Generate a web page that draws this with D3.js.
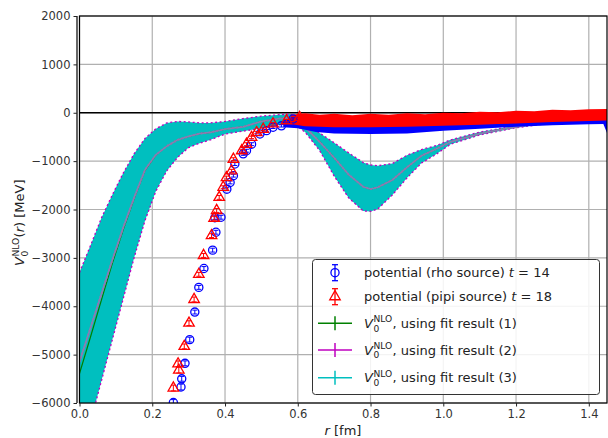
<!DOCTYPE html>
<html>
<head>
<meta charset="utf-8">
<script src="https://cdn.jsdelivr.net/npm/d3@7"></script>
<style>
body{margin:0;background:#fff}
svg{display:block;font-family:"DejaVu Sans",sans-serif}
</style>
</head>
<body>
<div id="chart"></div>
<script>

// fit band (fit results 2/3) and fit 1 centre
const rFit   = [0,0.03,0.06,0.09,0.12,0.15,0.18,0.21,0.24,0.27,0.30,0.33,0.36,0.40,0.45,0.50,0.55,0.58,0.62,0.66,0.70,0.74,0.78,0.80,0.82,0.86,0.90,0.94,0.98,1.02,1.10,1.20,1.30,1.40,1.45]
const fitHi  = [-3300,-2750,-2180,-1700,-1250,-850,-530,-330,-210,-180,-190,-210,-210,-180,-120,-70,-40,-25,-220,-420,-620,-830,-1030,-1080,-1095,-1050,-880,-760,-680,-560,-400,-270,-170,-85,-50]
const fitLo  = [-7250,-6400,-5550,-4700,-3850,-3000,-2230,-1620,-1200,-920,-720,-630,-560,-440,-380,-320,-250,-170,-400,-780,-1310,-1760,-2030,-2040,-1990,-1700,-1350,-1040,-860,-650,-460,-310,-210,-115,-75]
const fitMid = [-5150,-4450,-3750,-3050,-2380,-1760,-1180,-870,-690,-560,-490,-430,-405,-340,-290,-180,-120,-95,-300,-600,-930,-1280,-1530,-1580,-1540,-1390,-1130,-890,-750,-600,-430,-290,-190,-100,-62]
const fit1Mid= [-5390,-4640,-3880,-3120,-2420,-1780,-1190,-875,-690,-560,-490,-430,-405,-340,-290,-180,-120,-95,-300,-600,-930,-1280,-1530,-1580,-1540,-1390,-1130,-890,-750,-600,-430,-290,-190,-100,-62]

// potential, rho source t=14
const rhoR   = [0.258,0.279,0.281,0.290,0.303,0.317,0.328,0.342,0.366,0.372,0.375,0.389,0.405,0.414,0.423,0.427,0.450,0.459,0.473,0.496,0.514,0.532,0.555,0.587]
const rhoV   = [-5990,-5670,-5500,-5180,-4690,-4120,-3610,-3220,-2840,-2170,-2470,-2160,-1580,-1440,-1300,-1060,-850,-785,-650,-440,-370,-300,-270,-130]
const rhoErr = [60,60,50,50,50,40,40,40,40,40,40,40,30,30,30,30,30,30,30,25,25,25,25,25]
// dense part of the rho data (r > 0.56), upper and lower edge of the cloud
const rhoTailR  = [0.56,0.60,0.65,0.70,0.80,0.90,1.00,1.10,1.20,1.30,1.40,1.44,1.45]
const rhoTailHi = [-150,-80,-80,-90,-90,-80,-60,-50,-40,-30,-20,-20,-20]
const rhoTailLo = [-300,-320,-400,-430,-440,-430,-370,-330,-290,-260,-240,-230,-420]

// potential, pipi source t=18
const pipiR   = [0.258,0.271,0.273,0.288,0.301,0.315,0.328,0.341,0.363,0.370,0.377,0.384,0.395,0.404,0.418,0.423,0.446,0.459,0.473,0.487,0.505,0.532,0.569,0.605]
const pipiV   = [-5690,-5190,-5320,-4830,-4350,-3860,-3340,-2950,-2540,-2180,-2020,-1750,-1540,-1340,-1200,-960,-785,-650,-510,-410,-340,-230,-165,-95]
const pipiErr = [60,60,60,50,50,50,40,40,40,40,40,40,30,30,30,30,30,30,25,25,25,25,25,25]
const pipiTailR  = [0.58,0.62,0.66,0.70,0.75,0.80,0.85,0.90,0.95,1.00,1.05,1.10,1.15,1.20,1.25,1.30,1.35,1.40,1.45]
const pipiTailHi = [-40,-10,-40,-20,-50,-20,-40,-10,-30,0,-10,20,10,40,30,60,50,70,80]
const pipiTailLo = [-230,-280,-290,-300,-300,-300,-295,-290,-280,-270,-260,-250,-235,-220,-205,-190,-180,-170,-160]

const xTicks = [0.0,0.2,0.4,0.6,0.8,1.0,1.2,1.4]
const yTicks = [2000,1000,0,-1000,-2000,-3000,-4000,-5000,-6000]

const width = 608
const height = 438

const svg = d3.select("#chart")
.append("svg")
.attr("width",width)
.attr("height",height)

const x = d3.scaleLinear().domain([0,1.45]).range([79.5,607])
const y = d3.scaleLinear().domain([-6000,2000]).range([403,16])

svg.append("clipPath").attr("id","clip")
.append("rect")
.attr("x",x(0)).attr("y",y(2000))
.attr("width",x(1.45)-x(0)).attr("height",y(-6000)-y(2000))

// grid
svg.selectAll(".gx")
.data(xTicks)
.enter()
.append("line")
.attr("x1",d=>x(d)).attr("x2",d=>x(d))
.attr("y1",y(2000)).attr("y2",y(-6000))
.attr("stroke","#b0b0b0").attr("stroke-width",1.2)

svg.selectAll(".gy")
.data(yTicks)
.enter()
.append("line")
.attr("x1",x(0)).attr("x2",x(1.45))
.attr("y1",d=>y(d)).attr("y2",d=>y(d))
.attr("stroke","#b0b0b0").attr("stroke-width",1.2)

const plot = svg.append("g").attr("clip-path","url(#clip)")

// horizontal zero line
plot.append("line")
.attr("x1",x(0)).attr("x2",x(1.45))
.attr("y1",y(0)).attr("y2",y(0))
.attr("stroke","#000").attr("stroke-width",1.5)

const idx = d3.range(rFit.length)

plot.append("path")
.datum(idx)
.attr("d",d3.area().x(i=>x(rFit[i])).y0(i=>y(fitLo[i])).y1(i=>y(fitHi[i])))
.attr("fill","#00bfbf")

plot.append("path")
.datum(idx)
.attr("d",d3.line().x(i=>x(rFit[i])).y(i=>y(fitHi[i])))
.attr("fill","none").attr("stroke","#bf00bf").attr("stroke-width",1.3).attr("stroke-dasharray","2,2.5")
plot.append("path")
.datum(idx)
.attr("d",d3.line().x(i=>x(rFit[i])).y(i=>y(fitLo[i])))
.attr("fill","none").attr("stroke","#bf00bf").attr("stroke-width",1.3).attr("stroke-dasharray","2,2.5")

plot.append("path")
.datum(idx)
.attr("d",d3.line().x(i=>x(rFit[i])).y(i=>y(fit1Mid[i])))
.attr("fill","none").attr("stroke","#008000").attr("stroke-width",1.2)

plot.append("path")
.datum(idx)
.attr("d",d3.line().x(i=>x(rFit[i])).y(i=>y(fitMid[i])))
.attr("fill","none").attr("stroke","#7f86b4").attr("stroke-width",1.8)
plot.append("path")
.datum(idx)
.attr("d",d3.line().x(i=>x(rFit[i])).y(i=>y(fitMid[i])))
.attr("fill","none").attr("stroke","#9a6fb0").attr("stroke-width",1.8).attr("stroke-dasharray","1.5,2.5")

// dense data clouds
plot.append("path")
.datum(d3.range(rhoTailR.length))
.attr("d",d3.area().x(i=>x(rhoTailR[i])).y0(i=>y(rhoTailLo[i])).y1(i=>y(rhoTailHi[i])))
.attr("fill","#0000ff")

plot.append("path")
.datum(d3.range(pipiTailR.length))
.attr("d",d3.area().x(i=>x(pipiTailR[i])).y0(i=>y(pipiTailLo[i])).y1(i=>y(pipiTailHi[i])))
.attr("fill","#ff0000")

function drawPoints(rs,vs,es,color,shape){
const g = plot.append("g")
const ids = d3.range(rs.length)
g.selectAll("line.e")
.data(ids)
.enter()
.append("line")
.attr("x1",i=>x(rs[i])).attr("x2",i=>x(rs[i]))
.attr("y1",i=>y(vs[i]-es[i])).attr("y2",i=>y(vs[i]+es[i]))
.attr("stroke",color).attr("stroke-width",1)
g.selectAll("path.c")
.data(ids.flatMap(i=>[[i,vs[i]-es[i]],[i,vs[i]+es[i]]]))
.enter()
.append("line")
.attr("x1",d=>x(rs[d[0]])-2.5).attr("x2",d=>x(rs[d[0]])+2.5)
.attr("y1",d=>y(d[1])).attr("y2",d=>y(d[1]))
.attr("stroke",color).attr("stroke-width",1)
g.selectAll("path.m")
.data(ids)
.enter()
.append("path")
.attr("transform",i=>`translate(${x(rs[i])},${y(vs[i])})`)
.attr("d",d3.symbol(shape,shape===d3.symbolCircle?52:48))
.attr("fill","none").attr("stroke",color).attr("stroke-width",1.3)
}

drawPoints(rhoR,rhoV,rhoErr,"#0000ff",d3.symbolCircle)
drawPoints(pipiR,pipiV,pipiErr,"#ff0000",d3.symbolTriangle)

// spines
svg.append("rect")
.attr("x",x(0)).attr("y",y(2000))
.attr("width",x(1.45)-x(0)).attr("height",y(-6000)-y(2000))
.attr("fill","none").attr("stroke","#000").attr("stroke-width",1.2)
svg.append("line")
.attr("x1",x(0)-2.5).attr("x2",x(0)-2.5)
.attr("y1",y(2000)).attr("y2",y(-6000))
.attr("stroke","#000").attr("stroke-width",1.2)

// axes
const xAxis = svg.append("g")
.attr("transform",`translate(0,${y(-6000)})`)
.call(d3.axisBottom(x).tickValues(xTicks).tickSize(3.5).tickFormat(d3.format(".1f")))
const yAxis = svg.append("g")
.attr("transform",`translate(${x(0)-2.5},0)`)
.call(d3.axisLeft(y).tickValues(yTicks).tickSize(3.5).tickFormat(d=>d<0?"\u2212"+Math.abs(d):d))

for(const a of [xAxis,yAxis]){
a.select(".domain").remove()
a.selectAll("text").attr("font-family","DejaVu Sans").attr("font-size","11.5px").attr("fill","#333")
a.selectAll("line").attr("stroke","#222")
}

// x label
const xl = svg.append("text")
.attr("x",343).attr("y",435)
.attr("text-anchor","middle")
.attr("font-size","13px").attr("fill","#222")
xl.append("tspan").attr("font-style","italic").text("r")
xl.append("tspan").text(" [fm]")

// V_0^NLO helper
function vLabel(g,x0,y0,rest,fs){
const v = g.append("text").attr("x",x0).attr("y",y0)
.attr("font-size",fs+"px").attr("font-style","italic").attr("fill","#222").text("V")
const w = v.node().getComputedTextLength()
const sup = g.append("text").attr("x",x0+w+0.5).attr("y",y0-fs*0.42)
.attr("font-size",(fs*0.7)+"px").attr("fill","#222").text("NLO")
const sw = sup.node().getComputedTextLength()
g.append("text").attr("x",x0+w+0.5).attr("y",y0+fs*0.3)
.attr("font-size",(fs*0.7)+"px").attr("fill","#222").text("0")
const t = g.append("text").attr("x",x0+w+sw+1).attr("y",y0)
.attr("font-size",fs+"px").attr("fill","#222")
for(const part of rest){
t.append("tspan").attr("font-style",part[1]?"italic":"normal").text(part[0])
}
return w+sw+1+t.node().getComputedTextLength()
}

// y label (rotated)
const yl = svg.append("g").attr("transform","translate(24,266) rotate(-90)")
vLabel(yl,0,0,[["(",0],["r",1],[") [MeV]",0]],13)

// legend
const lg = svg.append("g")
lg.append("rect")
.attr("x",312.5).attr("y",259.5).attr("width",287).attr("height",135).attr("rx",3)
.attr("fill","#fff").attr("fill-opacity",0.85).attr("stroke","#333").attr("stroke-width",1)

const legRows = [272.7,296.7,323.3,350,377.7]
const legColors = ["#0000ff","#ff0000","#008000","#bf00bf","#00bfbf"]

legRows.slice(0,2).forEach((ly,k)=>{
const c = legColors[k]
lg.append("line").attr("x1",335).attr("x2",335).attr("y1",ly-8).attr("y2",ly+8).attr("stroke",c).attr("stroke-width",1.3)
lg.append("line").attr("x1",332).attr("x2",338).attr("y1",ly-8).attr("y2",ly-8).attr("stroke",c).attr("stroke-width",1.3)
lg.append("line").attr("x1",332).attr("x2",338).attr("y1",ly+8).attr("y2",ly+8).attr("stroke",c).attr("stroke-width",1.3)
lg.append("path").attr("transform",`translate(335,${ly})`)
.attr("d",d3.symbol(k===0?d3.symbolCircle:d3.symbolTriangle,k===0?52:48))
.attr("fill","none").attr("stroke",c).attr("stroke-width",1.3)
})

const legTexts = ["potential (rho source) ","potential (pipi source) "]
const legT = ["14","18"]
legTexts.forEach((s,k)=>{
const t = lg.append("text").attr("x",364).attr("y",legRows[k]+4.5).attr("font-size","13px").attr("fill","#222")
t.append("tspan").text(s)
t.append("tspan").attr("font-style","italic").text("t")
t.append("tspan").text(" = "+legT[k])
})

legRows.slice(2).forEach((ly,k)=>{
const c = legColors[k+2]
lg.append("line").attr("x1",318).attr("x2",352).attr("y1",ly).attr("y2",ly).attr("stroke",c).attr("stroke-width",1.5)
lg.append("line").attr("x1",335).attr("x2",335).attr("y1",ly-7).attr("y2",ly+7).attr("stroke",c).attr("stroke-width",1.5)
vLabel(lg,364,ly+4.5,[[", using fit result ("+(k+1)+")",0]],13)
})

</script>
</body>
</html>
